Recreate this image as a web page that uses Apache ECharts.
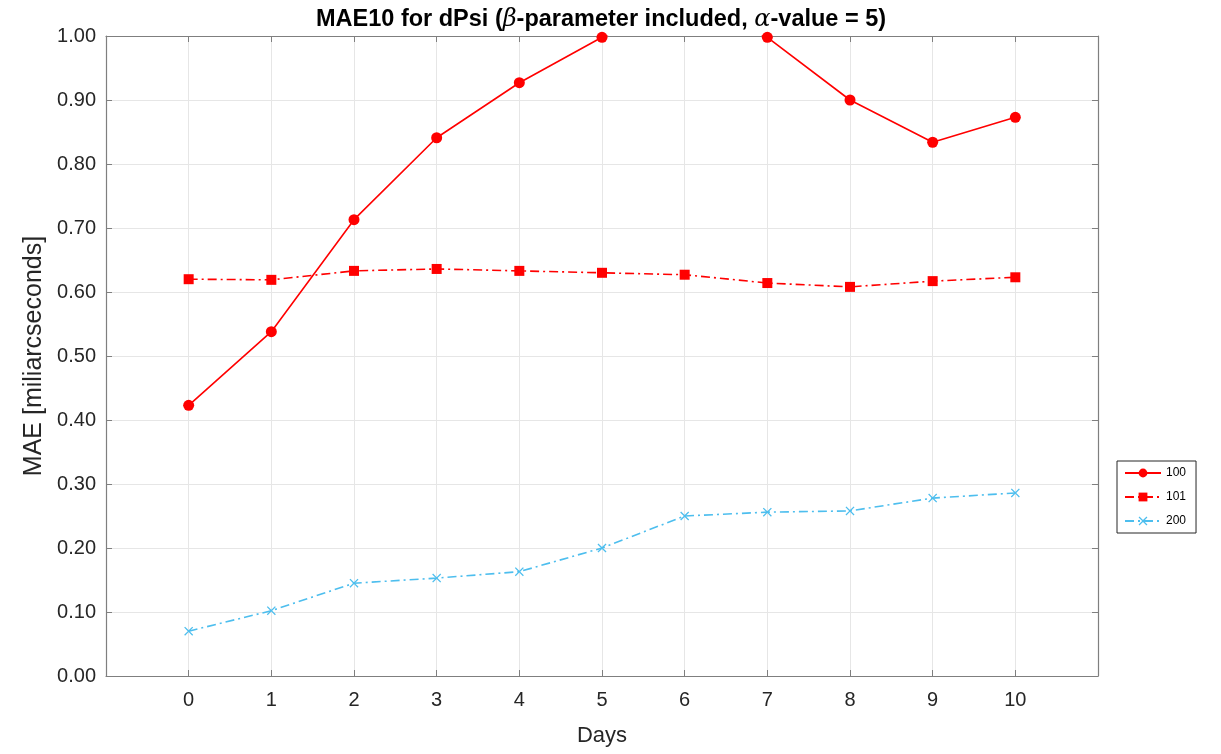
<!DOCTYPE html>
<html>
<head>
<meta charset="utf-8">
<script src="https://cdn.jsdelivr.net/npm/echarts@6/dist/echarts.min.js"></script>
<style>html,body{margin:0;padding:0;background:#fff}#c{width:1221px;height:754px}</style>
</head>
<body>
<div id="c"></div>
<script>
const days = [0,1,2,3,4,5,6,7,8,9,10];
const s100 = [0.423,0.538,0.713,0.841,0.927,0.998,1.06,0.998,0.900,0.834,0.873];
const s101 = [0.620,0.619,0.633,0.636,0.633,0.630,0.627,0.614,0.608,0.617,0.623];
const s200 = [0.070,0.102,0.145,0.153,0.163,0.200,0.250,0.256,0.258,0.278,0.286];
const seriesNames = ['100','101','200'];
const yTicks = [0,0.1,0.2,0.3,0.4,0.5,0.6,0.7,0.8,0.9,1.0];

const chart = echarts.init(document.getElementById('c'));
const FONT = 'Liberation Sans, Arial, Helvetica, sans-serif';
const axisCol = '#7f7f7f';
const txtCol = '#262626';
const xPath = 'path://M0,1 L1,0 L5,4 L9,0 L10,1 L6,5 L10,9 L9,10 L5,6 L1,10 L0,9 L4,5 Z';
const pair = (arr) => days.map((d,i)=>[d,arr[i]]);

chart.setOption({
  animation:false,
  backgroundColor:'#fff',
  textStyle:{fontFamily:FONT},
  title:{
    text:'{b|MAE10 for dPsi (}{g|β}{b|-parameter included, }{g|α}{b|-value = 5)}',
    left:316, top:8, padding:0,
    textStyle:{
      rich:{
        b:{fontFamily:FONT,fontWeight:'bold',fontSize:23.5,color:'#000'},
        g:{fontFamily:'DejaVu Serif, Liberation Serif, serif',fontStyle:'italic',fontWeight:'normal',fontSize:24,color:'#000'}
      }
    }
  },
  legend:{
    orient:'vertical', left:1117, top:461,
    data:seriesNames,
    borderColor:txtCol, borderWidth:1, borderRadius:0,
    padding:[6,10,6,7], itemGap:12, itemWidth:36, itemHeight:11,
    textStyle:{fontFamily:FONT,fontSize:12,color:'#000'},
    backgroundColor:'#fff'
  },
  grid:{left:106,right:123,top:36,bottom:78,containLabel:false},
  xAxis:[{
    type:'value', min:-1, max:11, interval:1,
    name:'Days', nameLocation:'middle', nameGap:49,
    nameTextStyle:{fontSize:22,color:txtCol,fontFamily:FONT},
    axisLine:{show:true,onZero:false,lineStyle:{color:axisCol,width:1.2}},
    axisTick:{show:true,inside:true,length:6,lineStyle:{color:axisCol}},
    axisLabel:{fontSize:20,color:txtCol,margin:14,fontFamily:FONT,
      formatter:(v)=> (v<0||v>10)?'':String(v)},
    splitLine:{show:true,lineStyle:{color:'#e6e6e6',width:1}}
  },{
    type:'value', min:-1, max:11, interval:1, position:'top',
    axisLine:{show:true,onZero:false,lineStyle:{color:axisCol,width:1.2}},
    axisTick:{show:true,inside:true,length:6,lineStyle:{color:axisCol}},
    axisLabel:{show:false}, splitLine:{show:false}
  }],
  yAxis:[{
    type:'value', min:0, max:1, interval:0.1,
    name:'MAE [miliarcseconds]', nameLocation:'middle', nameGap:59,
    nameTextStyle:{fontSize:25,color:txtCol,fontFamily:FONT},
    axisLine:{show:true,onZero:false,lineStyle:{color:axisCol,width:1.2}},
    axisTick:{show:true,inside:true,length:6,lineStyle:{color:axisCol}},
    axisLabel:{fontSize:20,color:txtCol,margin:10,fontFamily:FONT,
      formatter:(v)=>v.toFixed(2)},
    splitLine:{show:true,lineStyle:{color:'#e6e6e6',width:1}}
  },{
    type:'value', min:0, max:1, interval:0.1, position:'right',
    axisLine:{show:true,onZero:false,lineStyle:{color:axisCol,width:1.2}},
    axisTick:{show:true,inside:true,length:6,lineStyle:{color:axisCol}},
    axisLabel:{show:false}, splitLine:{show:false}
  }],
  series:[{
    name:seriesNames[0], type:'line', data:pair(s100), clip:true,
    symbol:'circle', symbolSize:11,
    lineStyle:{color:'#ff0000',width:1.6,type:'solid'},
    itemStyle:{color:'#ff0000'}, color:'#ff0000', z:3
  },{
    name:seriesNames[1], type:'line', data:pair(s101), clip:true,
    symbol:'rect', symbolSize:10,
    lineStyle:{color:'#ff0000',width:1.6,type:[9,4,2,4]},
    itemStyle:{color:'#ff0000'}, color:'#ff0000', z:3
  },{
    name:seriesNames[2], type:'line', data:pair(s200), clip:true,
    symbol:xPath, symbolSize:9,
    lineStyle:{color:'#4dbeee',width:1.6,type:[9,4,2,4]},
    itemStyle:{color:'#4dbeee'}, color:'#4dbeee', z:3
  }]
});
</script>
</body>
</html>
